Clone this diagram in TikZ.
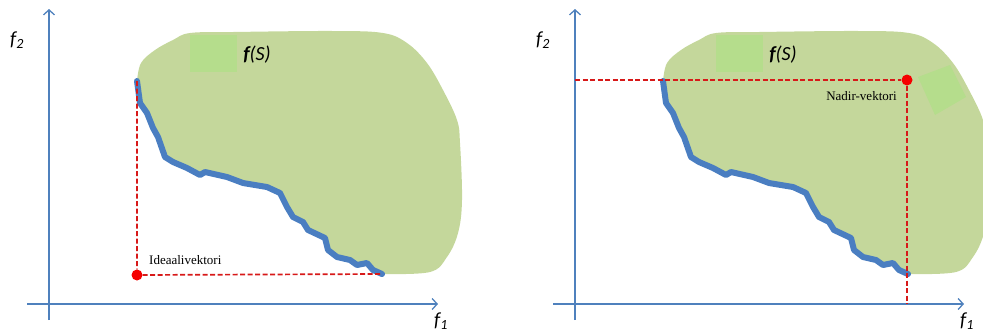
\documentclass[tikz,border=0pt]{standalone}
\usepackage{fontspec}
\setmainfont{Liberation Serif}
\newfontfamily\calib{Carlito}
\usetikzlibrary{arrows.meta}
\definecolor{axisblue}{RGB}{79,129,189}
\definecolor{frontblue}{RGB}{74,126,193}
\definecolor{setgreen}{RGB}{196,215,155}
\definecolor{patchgreen}{RGB}{181,221,140}
\definecolor{guidered}{RGB}{215,25,25}
\definecolor{dotred}{RGB}{245,0,0}
\tikzset{
  axis/.style={draw=axisblue, line width=1.3pt, -{Straight Barb[length=5pt,width=11pt]}},
  blob/.style={fill=setgreen},
  patch/.style={fill=patchgreen},
  front/.style={draw=frontblue, line width=6pt, line join=round, line cap=round},
  guide/.style={draw=guidered, line width=1.7pt, dash pattern=on 5pt off 2.5pt},
  vecdot/.style={circle, fill=dotred, inner sep=0pt, minimum size=11pt},
  veclabel/.style={font=\fontsize{13}{15}\selectfont, inner sep=0pt},
  axlabel/.style={font=\calib\itshape\fontsize{20}{23}\selectfont},
  setlabel/.style={font=\calib\itshape\fontsize{20}{24}\selectfont}
}

\begin{document}
\begin{tikzpicture}[x=1pt, y=-1pt]
\useasboundingbox (0,0) rectangle (983,333);

% both panels: set f(S), Pareto front, axes
\foreach \dx/\p in {0/L, 526/R} {
  \begin{scope}[shift={(\dx,0)}]
    \fill[blob] plot[smooth, tension=0.6] coordinates {(137,81) (141,63) (155,50) (173,40) (190,33) (233,32) (333,31) (383,33) (407,43) (427,63) (443,90) (457,120) (460,143) (462,200) (458,233) (447,257) (430,272) (383,274)}
      -- (373,270) -- (367,263) -- (357,265) -- (350,260) -- (337,257) -- (328,250) -- (325,238) -- (308,230) -- (303,222) -- (293,217) -- (287,207) -- (280,193) -- (267,187) -- (243,183) -- (227,177) -- (205,172) -- (200,175) -- (187,168) -- (173,162) -- (165,157) -- (158,137) -- (153,128) -- (147,113) -- (140,103) -- cycle;
    \fill[patch] (190,35) rectangle (237,72);
    \draw[front] plot coordinates {(137,81) (140,103) (147,113) (153,128) (158,137) (165,157) (173,162) (187,168) (200,175) (205,172) (227,177) (243,183) (267,187) (280,193) (287,207) (293,217) (303,222) (308,230) (325,238) (328,250) (337,257) (350,260) (357,265) (367,263) (373,270) (382,274)};
    \coordinate (top\p) at (137,81);
    \coordinate (end\p) at (382,274);
    \coordinate (ybot\p) at (49,320);
    \coordinate (ytop\p) at (49,9);
    \coordinate (xleft\p) at (27,304);
    \coordinate (xright\p) at (438,304);
    \draw[axis] (ybot\p) -- (ytop\p);
    \draw[axis] (xleft\p) -- (xright\p);
    \node[axlabel] (ftwo\p) at (17,40) {f\textsubscript{2}};
    \node[axlabel] (fone\p) at (441,321) {f\textsubscript{1}};
    \node[setlabel] (fs\p) at (257,55) {{\bfseries f}(S)};
  \end{scope}
}

% ideal vector
\node[vecdot] (ideal) at (137,275) {};
\draw[guide] (topL) -- (ideal) -- (endL);
\node[veclabel, anchor=west] (ideallabel) at (149,260) {Ideaalivektori};

% nadir vector
\fill[patch] (918,77) -- (950,65) -- (966,97) -- (935,115) -- cycle;
\node[vecdot] (nadir) at (907,80) {};
\coordinate (nadirleft) at (575,80);
\coordinate (nadirdown) at (907,304);
\draw[guide] (nadirleft) -- (nadir) -- (nadirdown);
\node[veclabel, anchor=east] (nadirlabel) at (897,96) {Nadir-vektori};
\end{tikzpicture}
\end{document}
